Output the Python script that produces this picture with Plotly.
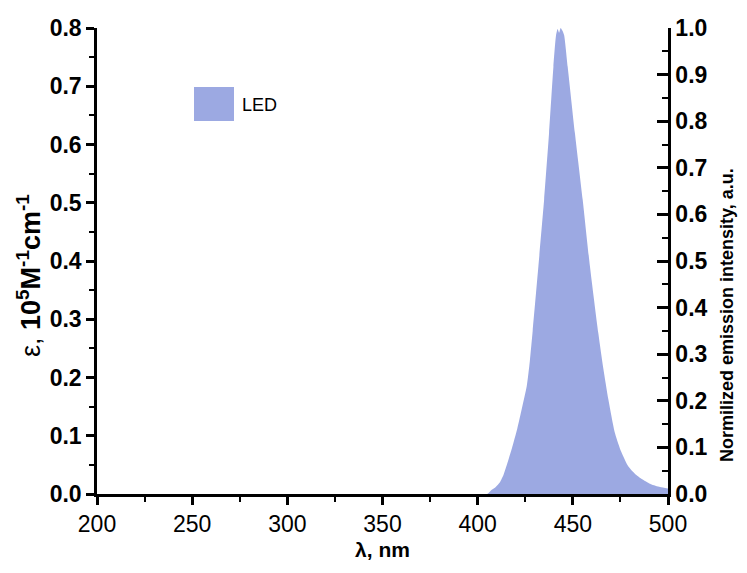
import plotly.graph_objects as go

# Emission spectrum of the LED (normalized)
wavelength_nm = [200, 405, 407.4, 409.5, 411.7, 413.5, 415.3, 418.0, 420.8, 423.3, 425.8,
                 427.4, 428.9, 431.9, 434.9, 437.5, 439.8, 441.2, 442.0, 442.8, 443.6,
                 444.4, 445.4, 447.3, 451.1, 455.2, 459.0, 463.4, 466.0, 468.7, 472.2,
                 475.5, 479.2, 483.0, 487.1, 491.0, 495.8, 500]
emission = [0, 0, 0.009, 0.015, 0.025, 0.040, 0.062, 0.098, 0.140, 0.185, 0.232,
            0.285, 0.350, 0.488, 0.631, 0.774, 0.917, 0.985, 0.998, 0.99, 1.0,
            0.995, 0.985, 0.917, 0.774, 0.631, 0.488, 0.345, 0.27, 0.202, 0.130,
            0.090, 0.059, 0.042, 0.030, 0.021, 0.015, 0.012]

x_ticks = [200, 250, 300, 350, 400, 450, 500]
left_ticks = [0.0, 0.1, 0.2, 0.3, 0.4, 0.5, 0.6, 0.7, 0.8]
right_ticks = [0.0, 0.1, 0.2, 0.3, 0.4, 0.5, 0.6, 0.7, 0.8, 0.9, 1.0]

FILL = "rgb(156,169,226)"
FONT = "Arial, Liberation Sans, sans-serif"

# page body has an 8px margin, so the figure is offset by 8px on screen;
# size the figure so the page does not overflow the 747x573 window
OFF = 8
W, H = 747 - 2 * OFF, 573 - 2 * OFF
L, T = 97 - OFF, 28 - OFF
R, B = W - (668 - OFF), H - (494 - OFF)
PW, PH = W - L - R, H - T - B


def px(x):
    return (x - OFF - L) / PW


def py(y):
    return (H - B - (y - OFF)) / PH


fig = go.Figure()
# invisible trace to anchor the left axis
fig.add_trace(go.Scatter(x=[200, 500], y=[0, 0], mode="lines", line=dict(width=0),
                         showlegend=False, hoverinfo="skip", yaxis="y"))
fig.add_trace(go.Scatter(x=wavelength_nm, y=emission, mode="lines", fill="tozeroy",
                         fillcolor=FILL, line=dict(width=0, color=FILL, shape="spline", smoothing=0.6),
                         name="LED", showlegend=False, yaxis="y2"))

axis_common = dict(showline=True, linecolor="black", linewidth=2.5, showgrid=False,
                   zeroline=False, tickcolor="black", tickwidth=2.5, automargin=False)

fig.update_layout(
    width=W, height=H,
    margin=dict(l=L, r=R, t=T, b=B),
    plot_bgcolor="white", paper_bgcolor="white",
    font=dict(family=FONT, color="black"),
    xaxis=dict(range=[200, 500], tickvals=x_ticks, ticks="outside", ticklen=8,
               minor=dict(ticks="outside", ticklen=5, dtick=25, tickcolor="black", tickwidth=2),
               tickfont=dict(size=23, family=FONT),
               title=dict(text="λ, nm", font=dict(size=21, family=FONT, weight="bold"), standoff=6),
               **axis_common),
    yaxis=dict(range=[0, 0.8], tickvals=left_ticks, tickformat=".1f", ticks="outside", ticklen=8,
               minor=dict(ticks="outside", ticklen=5, dtick=0.05, tickcolor="black", tickwidth=2),
               tickfont=dict(size=23, family=FONT, weight="bold"),
               **axis_common),
    yaxis2=dict(range=[0, 1.0], tickvals=right_ticks, tickformat=".1f", overlaying="y", side="right",
                ticks="inside", ticklen=11,
                minor=dict(ticks="inside", ticklen=6, dtick=0.05, tickcolor="black", tickwidth=2),
                tickfont=dict(size=23, family=FONT, weight="bold"),
                **axis_common),
    shapes=[dict(type="rect", xref="paper", yref="paper",
                 x0=px(194), x1=px(234), y0=py(121), y1=py(87),
                 fillcolor=FILL, line=dict(width=0))],
    annotations=[
        dict(text="LED", xref="paper", yref="paper",
             x=px(240), y=py(105), xanchor="left", yanchor="middle", showarrow=False,
             font=dict(size=18, family=FONT, color="black")),
        dict(text="ε, <b>10<sup>5</sup>M<sup>-1</sup>cm<sup>-1</sup></b>", textangle=-90,
             xref="paper", yref="paper", x=px(29), y=py(276),
             xanchor="center", yanchor="middle", showarrow=False,
             font=dict(size=27, family=FONT, color="black")),
        dict(text="<b>Normilized emission intensity, a.u.</b>", textangle=-90,
             xref="paper", yref="paper", x=px(727), y=py(315),
             xanchor="center", yanchor="middle", showarrow=False,
             font=dict(size=18, family=FONT, color="black")),
    ],
)

fig.write_html("out.html")
